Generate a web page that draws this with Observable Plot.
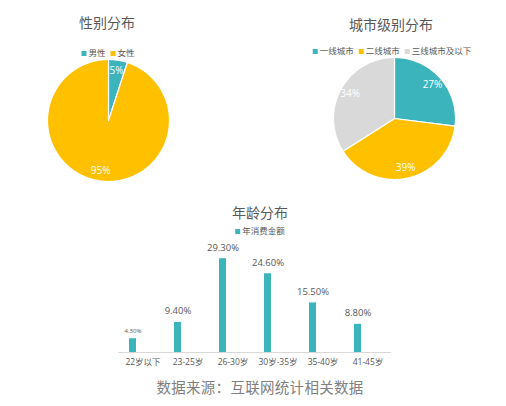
<!DOCTYPE html>
<html><head><meta charset="utf-8">
<script src="https://cdn.jsdelivr.net/npm/d3@7"></script>
<script src="https://cdn.jsdelivr.net/npm/@observablehq/plot@0.6"></script>
<style>
body{margin:0;background:#fff;}
#root{position:relative;width:506px;height:406px;overflow:hidden;font-family:"Open Sans","Noto Sans CJK SC",sans-serif;color:#595959;}
.t{position:absolute;transform:translate(-50%,-50%);white-space:nowrap;}
.title{font-size:14px;color:#595959;}
.legend{font-size:8.5px;display:flex;gap:5px;align-items:center;color:#595959;}
.sw{display:inline-block;width:5px;height:5px;margin-right:2px;vertical-align:middle;}
.abs{position:absolute;}
.cap{font-size:14.5px;color:#808080;letter-spacing:0.3px;}
</style></head><body><div id="root"></div>
<script>
const genderCats = ["男性", "女性"];
const genderVals = [5, 95];
const cityCats = ["一线城市", "二线城市", "三线城市及以下"];
const cityVals = [27, 39, 34];
const ageCats = ["22岁以下", "23-25岁", "26-30岁", "30岁-35岁", "35-40岁", "41-45岁"];
const ageVals = [4.3, 9.4, 29.3, 24.6, 15.5, 8.8];
const palette = ["#3CB4BC", "#FFC000", "#D9D9D9"];

const root = document.getElementById("root");
function addText(cls, txt, x, y) {
  const d = document.createElement("div");
  d.className = "t " + cls; d.textContent = txt;
  d.style.left = x + "px"; d.style.top = y + "px";
  root.appendChild(d); return d;
}
function addLegend(cats, x, y) {
  const d = document.createElement("div");
  d.className = "t legend";
  d.style.left = x + "px"; d.style.top = y + "px";
  cats.forEach((c, i) => {
    const s = document.createElement("span");
    s.innerHTML = `<span class="sw" style="background:${palette[i]}"></span>${c}`;
    d.appendChild(s);
  });
  root.appendChild(d);
}

function pieRows(cats, vals) {
  const total = d3.sum(vals);
  let acc = 0; const rows = [], labels = [];
  cats.forEach((c, i) => {
    const a0 = acc / total * 2 * Math.PI, a1 = (acc + vals[i]) / total * 2 * Math.PI;
    const n = Math.max(2, Math.ceil((a1 - a0) / 0.02));
    rows.push({cat: c, x: 0, y: 0});
    for (let k = 0; k <= n; k++) {
      const a = a0 + (a1 - a0) * k / n;
      rows.push({cat: c, x: Math.sin(a), y: Math.cos(a)});
    }
    rows.push({cat: c, x: 0, y: 0});
    const m = (a0 + a1) / 2;
    labels.push({x: 0.83 * Math.sin(m), y: 0.83 * Math.cos(m), text: vals[i] + "%"});
    acc += vals[i];
  });
  return {rows, labels};
}

function pie(cats, vals, cx, cy, r) {
  const {rows, labels} = pieRows(cats, vals);
  const m = 4, size = 2 * r + 2 * m;
  const svg = Plot.plot({
    width: size, height: size, margin: m,
    x: {domain: [-1, 1], axis: null},
    y: {domain: [-1, 1], axis: null},
    color: {domain: cats, range: palette},
    style: {background: "transparent", fontFamily: "'Open Sans','Noto Sans CJK SC',sans-serif"},
    marks: [
      Plot.line(rows, {x: "x", y: "y", z: "cat", fill: "cat", stroke: "white", strokeWidth: 1.2, strokeLinejoin: "round", curve: "linear"}),
      Plot.text(labels, {x: "x", y: "y", text: "text", fill: "white", fontSize: 10})
    ]
  });
  svg.classList.add("abs");
  svg.style.left = (cx - size / 2) + "px";
  svg.style.top = (cy - size / 2) + "px";
  root.appendChild(svg);
}

addText("title", "性别分布", 107, 22);
addLegend(genderCats, 108, 52);
pie(genderCats, genderVals, 108, 120, 61);

addText("title", "城市级别分布", 391, 24);
addLegend(cityCats, 392, 50);
pie(cityCats, cityVals, 394, 118, 61);

addText("title", "年龄分布", 260, 212);
addLegend(["年消费金额"], 260, 230);

const ageData = ageCats.map((c, i) => ({cat: c, value: ageVals[i]}));
const bar = Plot.plot({
  width: 506, height: 140,
  marginLeft: 118, marginRight: 115, marginTop: 8, marginBottom: 20,
  x: {domain: ageCats, paddingInner: 0.85, paddingOuter: 0.425, axis: null},
  y: {domain: [0, 35], axis: null},
  style: {background: "transparent", fontFamily: "'Open Sans','Noto Sans CJK SC',sans-serif", color: "#595959"},
  marks: [
    Plot.ruleY([0], {stroke: "#d9d9d9", strokeWidth: 1}),
    Plot.barY(ageData, {x: "cat", y: "value", fill: palette[0], dx: -10}),
    Plot.text(ageData, {filter: d => d.value >= 5, x: "cat", y: "value", text: d => d.value.toFixed(2) + "%", dx: -10, dy: -11, fontSize: 9.5, fill: "#595959"}),
    Plot.text(ageData, {filter: d => d.value < 5, x: "cat", y: "value", text: d => d.value.toFixed(2) + "%", dx: -10, dy: -8, fontSize: 6, fill: "#595959"}),
    Plot.axisX({tickSize: 0, tickPadding: 6, fontSize: 8.5, label: null, fill: "#595959"})
  ]
});
bar.classList.add("abs");
bar.style.left = "0px"; bar.style.top = "232px";
root.appendChild(bar);

addText("cap", "数据来源：互联网统计相关数据", 260, 386);
</script></body></html>
